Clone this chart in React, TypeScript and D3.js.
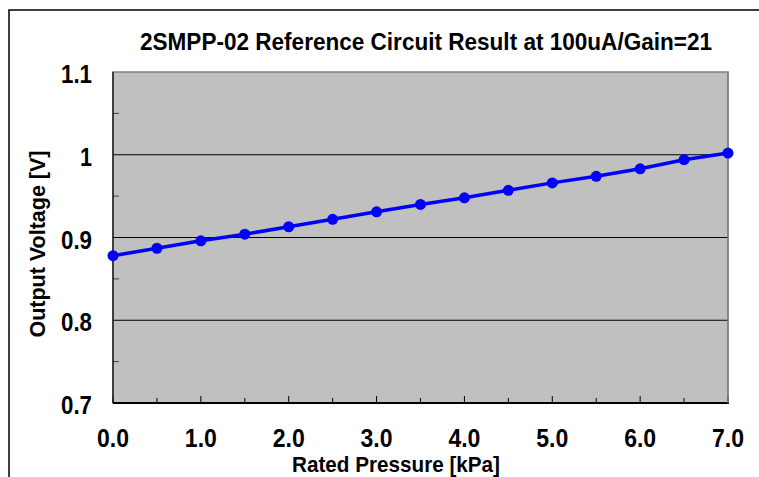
import React from "react";
import * as d3 from "d3";

const TITLE = "2SMPP-02 Reference Circuit Result at 100uA/Gain=21";
const X_TITLE = "Rated Pressure [kPa]";
const Y_TITLE = "Output Voltage [V]";
const pressures = [0, 0.5, 1.0, 1.5, 2.0, 2.5, 3.0, 3.5, 4.0, 4.5, 5.0, 5.5, 6.0, 6.5, 7.0];
const voltages = [0.878, 0.887, 0.896, 0.904, 0.913, 0.922, 0.931, 0.940, 0.948, 0.957, 0.966, 0.974, 0.983, 0.994, 1.002];
const xTicks = [0, 1, 2, 3, 4, 5, 6, 7];
const xTickLabels = ["0.0", "1.0", "2.0", "3.0", "4.0", "5.0", "6.0", "7.0"];
const yTicks = [0.7, 0.8, 0.9, 1.0, 1.1];
const yTickLabels = ["0.7", "0.8", "0.9", "1", "1.1"];
const xMinorTicks = [0.5, 1.5, 2.5, 3.5, 4.5, 5.5, 6.5];
const yMinorTicks = [0.75, 0.85, 0.95, 1.05];

const W = 759;
const H = 477;
const L = 113, R = 728, T = 72, B = 403;
const FONT = "'Liberation Sans', Arial, sans-serif";

export default function App() {
  const x = d3.scaleLinear().domain([0, 7]).range([L, R]);
  const y = d3.scaleLinear().domain([0.7, 1.1]).range([B, T]);
  const pts = pressures.map((p, i) => [p, voltages[i]] as [number, number]);
  const line = d3.line<[number, number]>().x(d => x(d[0])).y(d => y(d[1]));

  return (
    <svg width={W} height={H} style={{ position: "absolute", left: 0, top: 0, background: "#fff" }}>
      <rect x={9} y={10} width={W + 20} height={H + 20} fill="#fff" stroke="#000" strokeWidth={1.5} />
      <text x={426} y={50} textAnchor="middle" fontFamily={FONT} fontSize={24} fontWeight="bold"
        textLength={572} lengthAdjust="spacingAndGlyphs" fill="#000">{TITLE}</text>
      <rect x={L} y={T} width={R - L} height={B - T} fill="#c0c0c0" stroke="#808080" strokeWidth={1.5} />
      {[0.8, 0.9, 1.0].map(v => (
        <line key={v} x1={L} x2={R} y1={y(v)} y2={y(v)} stroke="#000" strokeWidth={1} />
      ))}
      {yMinorTicks.map(v => (
        <line key={v} x1={L} x2={L + 6} y1={y(v)} y2={y(v)} stroke="#404040" strokeWidth={1} />
      ))}
      {xTicks.map(v => (
        <line key={"M" + v} x1={x(v)} x2={x(v)} y1={B} y2={B - 7} stroke="#000" strokeWidth={1} />
      ))}
      {xMinorTicks.map(v => (
        <line key={"m" + v} x1={x(v)} x2={x(v)} y1={B} y2={B - 5} stroke="#000" strokeWidth={1} />
      ))}
      <line x1={L} x2={L} y1={T} y2={B} stroke="#202020" strokeWidth={1.5} />
      <line x1={L} x2={R + 1} y1={B} y2={B} stroke="#000" strokeWidth={2} />
      <line x1={R} x2={R} y1={T} y2={B} stroke="#808080" strokeWidth={1.5} />
      <path d={line(pts) || ""} fill="none" stroke="#0000ff" strokeWidth={3.5} />
      {pts.map((d, i) => (
        <circle key={i} cx={x(d[0])} cy={y(d[1])} r={5.5} fill="#0000ff" />
      ))}
      {yTicks.map((v, i) => (
        <text key={v} x={92} y={y(v) + 11} textAnchor="end" fontFamily={FONT} fontSize={26} fontWeight="bold" fill="#000"
          textLength={yTickLabels[i].length === 1 ? 12 : 31} lengthAdjust="spacingAndGlyphs">{yTickLabels[i]}</text>
      ))}
      {xTicks.map((v, i) => (
        <text key={v} x={x(v)} y={447} textAnchor="middle" fontFamily={FONT} fontSize={26} fontWeight="bold" fill="#000"
          textLength={32} lengthAdjust="spacingAndGlyphs">{xTickLabels[i]}</text>
      ))}
      <text x={396} y={472} textAnchor="middle" fontFamily={FONT} fontSize={22} fontWeight="bold"
        textLength={208} lengthAdjust="spacingAndGlyphs" fill="#000">{X_TITLE}</text>
      <text transform={`translate(45,244) rotate(-90)`} textAnchor="middle" fontFamily={FONT} fontSize={22} fontWeight="bold"
        textLength={187} lengthAdjust="spacingAndGlyphs" fill="#000">{Y_TITLE}</text>
    </svg>
  );
}
